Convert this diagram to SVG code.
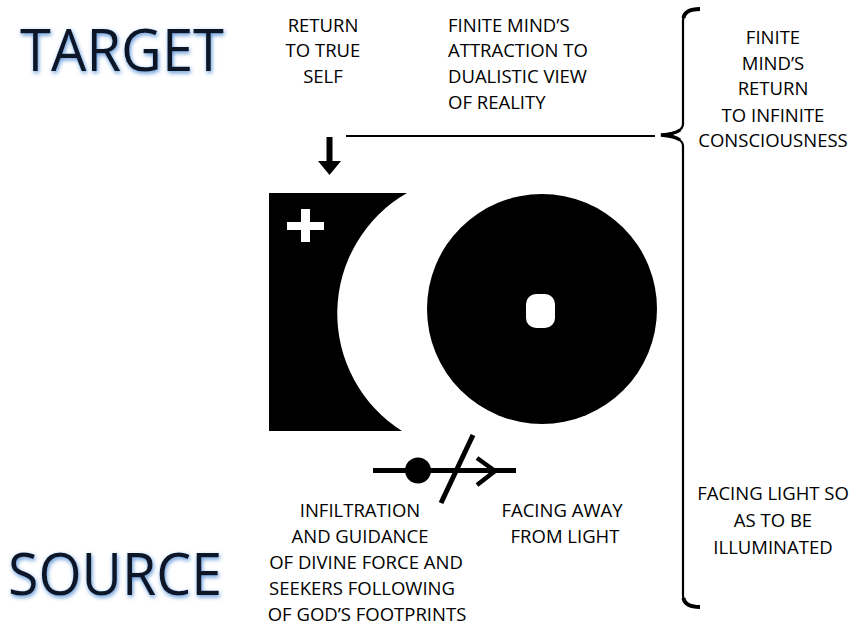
<svg xmlns="http://www.w3.org/2000/svg" width="859" height="626" viewBox="0 0 859 626">
  <defs>
    <filter id="glow" x="-10%" y="-30%" width="120%" height="160%">
      <feGaussianBlur in="SourceAlpha" stdDeviation="2"/>
      <feOffset dx="1" dy="2" result="b"/>
      <feFlood flood-color="#3f7fcf" flood-opacity="0.85"/>
      <feComposite in2="b" operator="in"/>
      <feMerge><feMergeNode/><feMergeNode in="SourceGraphic"/></feMerge>
    </filter>
    <style>
      .t { font-family: "Open Sans", "Liberation Sans", sans-serif; font-size: 18.5px; fill: #000; }
      .c { text-anchor: middle; }
      .title { font-family: "Open Sans", "Liberation Sans", sans-serif; font-size: 58px; fill: #0b1626; filter: url(#glow); }
      .ln { stroke: #000; fill: none; }
    </style>
  </defs>
  <rect width="859" height="626" fill="#fff"/>

  <g id="target-title">
    <text class="title" x="20" y="71" textLength="204" lengthAdjust="spacingAndGlyphs">TARGET</text>
  </g>
  <g id="source-title">
    <text class="title" x="8" y="595" textLength="214" lengthAdjust="spacingAndGlyphs">SOURCE</text>
  </g>

  <g id="return-true-self">
    <text class="t c" x="323" y="32">RETURN</text>
    <text class="t c" x="323" y="57">TO TRUE</text>
    <text class="t c" x="323" y="83">SELF</text>
  </g>

  <g id="finite-attraction">
    <text class="t" x="448" y="32">FINITE MIND’S</text>
    <text class="t" x="448" y="57">ATTRACTION TO</text>
    <text class="t" x="448" y="83">DUALISTIC VIEW</text>
    <text class="t" x="448" y="109">OF REALITY</text>
  </g>

  <g id="finite-return">
    <text class="t c" x="773" y="44">FINITE</text>
    <text class="t c" x="773" y="70">MIND’S</text>
    <text class="t c" x="773" y="95">RETURN</text>
    <text class="t c" x="773" y="122">TO INFINITE</text>
    <text class="t c" x="773" y="147">CONSCIOUSNESS</text>
  </g>

  <g id="facing-light">
    <text class="t c" x="773" y="500">FACING LIGHT SO</text>
    <text class="t c" x="773" y="527">AS TO BE</text>
    <text class="t c" x="773" y="554">ILLUMINATED</text>
  </g>

  <g id="infiltration">
    <text class="t c" x="360" y="517">INFILTRATION</text>
    <text class="t c" x="360" y="543">AND GUIDANCE</text>
    <text class="t c" x="366" y="569">OF DIVINE FORCE AND</text>
    <text class="t c" x="362" y="595">SEEKERS FOLLOWING</text>
    <text class="t c" x="367" y="621">OF GOD’S FOOTPRINTS</text>
  </g>

  <g id="facing-away">
    <text class="t c" x="562" y="517">FACING AWAY</text>
    <text class="t c" x="565" y="543">FROM LIGHT</text>
  </g>

  <g id="crescent-block">
    <path d="M269,193 L407,193 A139,139 0 0 0 402,431 L269,431 Z" fill="#000"/>
    <rect x="287" y="222" width="37" height="8" fill="#fff"/>
    <rect x="301" y="209" width="9" height="33" fill="#fff"/>
  </g>

  <g id="disc">
    <circle cx="542" cy="309" r="115" fill="#000"/>
    <rect x="526" y="294" width="29" height="34" rx="10" fill="#fff"/>
  </g>

  <g id="symbol">
    <line class="ln" x1="373" y1="470.5" x2="516" y2="470.5" stroke-width="5"/>
    <circle cx="418" cy="470.5" r="13" fill="#000"/>
    <line class="ln" x1="473" y1="435" x2="441" y2="503" stroke-width="5"/>
    <polyline class="ln" points="477,458 495,471 477,485" stroke-width="4.5"/>
  </g>

  <g id="connectors">
    <rect x="326.5" y="137" width="6" height="26" fill="#000"/>
    <polygon points="318,161 341,161 329.5,175" fill="#000"/>
    <line class="ln" x1="346" y1="136" x2="655" y2="136" stroke-width="2"/>
    <path class="ln" d="M700,9 Q683,9 683,21 L683,124 Q683,133 661,135 Q683,137 683,146 L683,595 Q683,607 700,607" stroke-width="2.2"/>
    <path class="ln" d="M700,9 Q685,9 683.5,18" stroke-width="4"/>
    <path class="ln" d="M683.5,598 Q685,607 700,607" stroke-width="4"/>
    <path class="ln" d="M680,130 Q675,134 661,135 Q675,136 680,140" stroke-width="3.5"/>
  </g>
</svg>
